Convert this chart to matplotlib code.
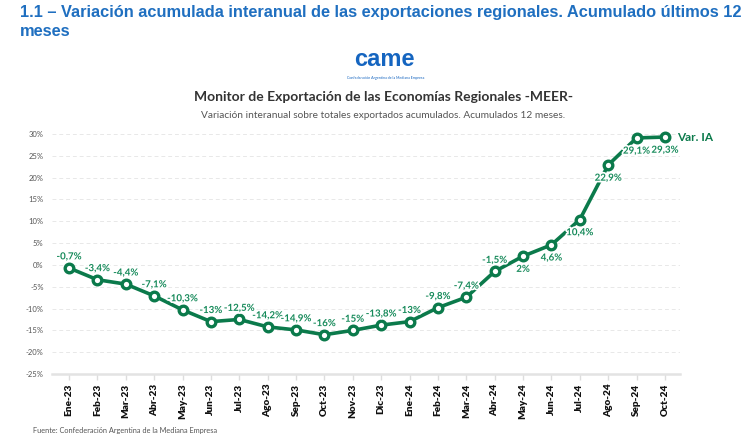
import matplotlib
matplotlib.use("Agg")
import matplotlib.pyplot as plt
import matplotlib.patheffects as pe
from matplotlib.ticker import FuncFormatter

months = ["Ene-23", "Feb-23", "Mar-23", "Abr-23", "May-23", "Jun-23", "Jul-23", "Ago-23",
          "Sep-23", "Oct-23", "Nov-23", "Dic-23", "Ene-24", "Feb-24", "Mar-24", "Abr-24",
          "May-24", "Jun-24", "Jul-24", "Ago-24", "Sep-24", "Oct-24"]
values = [-0.7, -3.4, -4.4, -7.1, -10.3, -13, -12.5, -14.2, -14.9, -16, -15, -13.8,
          -13, -9.8, -7.4, -1.5, 2, 4.6, 10.4, 22.9, 29.1, 29.3]
yticks = [-25, -20, -15, -10, -5, 0, 5, 10, 15, 20, 25, 30]
series_name = "Var. IA"

GREEN = "#0b7a4b"
LABEL_GREEN = "#168a5a"
BLUE = "#1f6fc0"

plt.rcParams['font.family'] = ['Lato', 'DejaVu Sans']

W, H = 754, 437
fig = plt.figure(figsize=(W / 100, H / 100), dpi=100)
fig.patch.set_facecolor("white")

ax = fig.add_axes([52 / W, 1 - 374 / H, (680 - 52) / W, (374 - 134) / H])
x = list(range(len(months)))
ax.plot(x, values, color=GREEN, lw=2.6, marker="o", ms=6.2, mfc="white",
        mec=GREEN, mew=2.4, zorder=3, clip_on=False)

ax.set_xlim(-0.6, len(months) - 1 + 0.53)
ax.set_ylim(-25, 30)
ax.set_yticks(yticks)
ax.yaxis.set_major_formatter(FuncFormatter(lambda v, p: f"{int(v)}%"))
ax.set_xticks(x)
ax.set_xticklabels(months, rotation=90, fontsize=7.2, fontweight="heavy", color="#111111")
ax.tick_params(axis="y", length=0, labelsize=5.5, labelcolor="#555555", pad=6)
ax.tick_params(axis="x", length=4, color="#dddddd", width=1, pad=3)
for s in ["top", "right", "left"]:
    ax.spines[s].set_visible(False)
ax.spines["bottom"].set_color("#e3e3e3")
ax.spines["bottom"].set_linewidth(1.8)
ax.grid(axis="y", color="#e8e8e8", ls=(0, (4, 3)), lw=0.7)
ax.set_axisbelow(True)

def fmt(v):
    s = f"{v:g}".replace(".", ",")
    return s + "%"

halo = [pe.withStroke(linewidth=2.5, foreground="white")]
for i, v in enumerate(values):
    off = -9.5 if i >= 16 else 8
    ax.annotate(fmt(v), (i, v), xytext=(0, off), textcoords="offset points",
                ha="center", va="center", fontsize=7, fontweight="bold",
                color=LABEL_GREEN, zorder=5, path_effects=halo)

ax.annotate(series_name, (x[-1], values[-1]), xytext=(9, 0), textcoords="offset points",
            ha="left", va="center", fontsize=8.5, fontweight="bold", color=GREEN)

# Header texts
hdr_font = ["Liberation Sans", "DejaVu Sans"]
fig.text(20 / W, 1 - 13 / H,
         "1.1 – Variación acumulada interanual de las exportaciones regionales. Acumulado últimos 12",
         fontsize=11.75, fontweight="bold", color=BLUE, family=hdr_font,
         ha="left", va="center")
fig.text(20 / W, 1 - 31 / H, "meses",
         fontsize=11.75, fontweight="bold", color=BLUE, family=hdr_font,
         ha="left", va="center")

# Logo
fig.text(384 / W, 1 - 60 / H, "came", fontsize=17, fontweight="heavy", color="#1565c0",
         ha="center", va="center", family=hdr_font)
fig.text(386 / W, 1 - 78 / H, "Confederación Argentina de la Mediana Empresa", fontsize=2.6,
         color="#1565c0", ha="center", va="center")

fig.text(384 / W, 1 - 97 / H, "Monitor de Exportación de las Economías Regionales -MEER-",
         fontsize=10, fontweight="bold", color="#333333", ha="center", va="center")
fig.text(383 / W, 1 - 116 / H, "Variación interanual sobre totales exportados acumulados. Acumulados 12 meses.",
         fontsize=7.3, color="#555555", ha="center", va="center")

fig.text(33 / W, 1 - 430 / H, "Fuente: Confederación Argentina de la Mediana Empresa",
         fontsize=5.3, color="#555555", ha="left", va="center")

fig.savefig("out.png", dpi=100)
